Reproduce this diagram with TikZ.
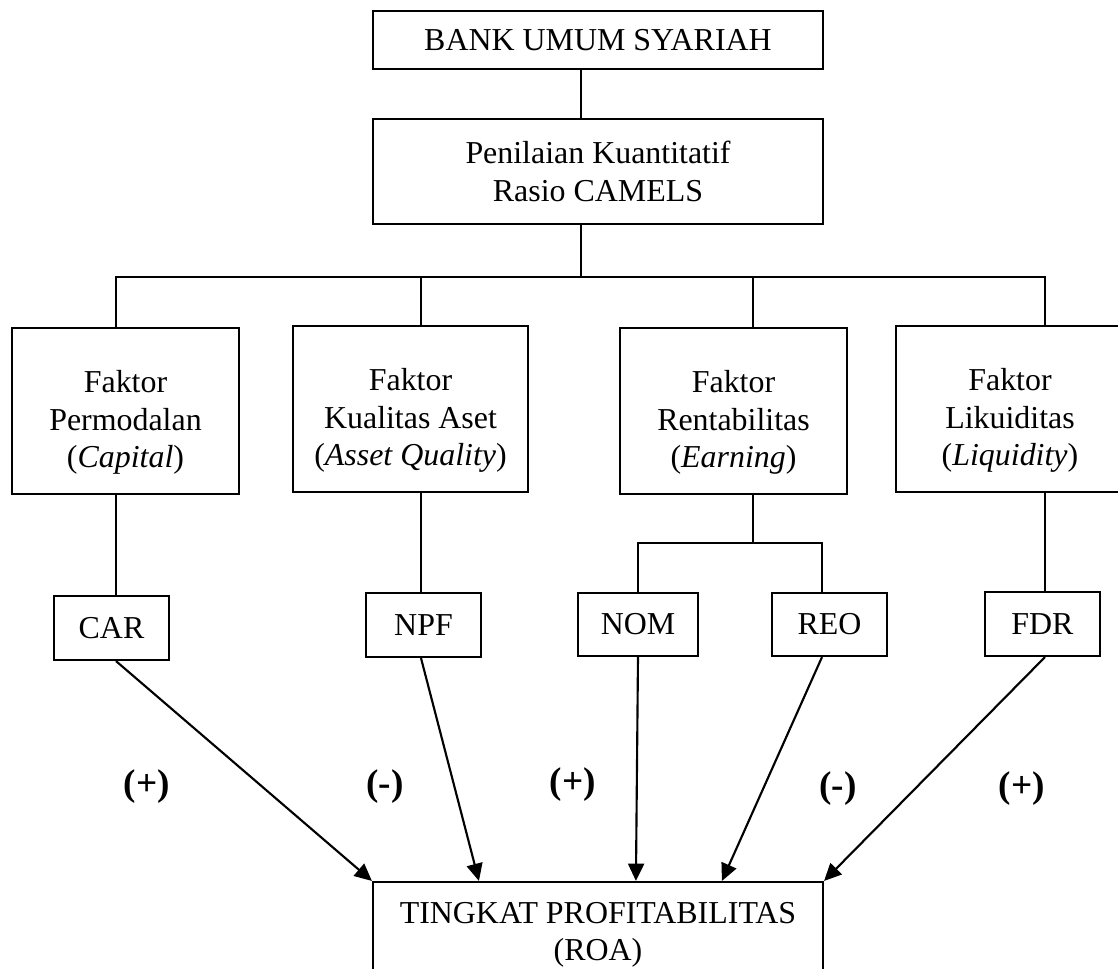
\documentclass[tikz,border=0pt]{standalone}
\usepackage{fontspec}
\setmainfont{Liberation Serif}
\usetikzlibrary{arrows.meta}
\newcommand{\unitpx}{0.376pt}
\newcommand{\turun}{\rule{0pt}{17pt}}

\begin{document}
\begin{tikzpicture}[x=\unitpx, y=-\unitpx, line width=0.8pt,
          every node/.style={align=center, font=\fontsize{12}{14}\selectfont},
          kotak/.style 2 args={draw, rectangle, inner sep=0pt, minimum width=#1*\unitpx, minimum height=#2*\unitpx},
          panah/.style={-{Triangle[length=6.5pt, width=6pt]}},
          tanda/.style={font=\fontsize{14}{16}\selectfont\bfseries}]
          \useasboundingbox (0,0) rectangle (1118,968);
          \clip (0,0) rectangle (1118,968);
          % kotak atas
          \node[kotak={450}{58}] (bank) at (598,40) {BANK UMUM SYARIAH};
          \node[kotak={450}{105}] (camels) at (598,171.5) {Penilaian Kuantitatif\\Rasio CAMELS};
          % faktor
          \node[kotak={227}{166}] (modal) at (125.5,411) {\turun Faktor\\Permodalan\\(\textit{Capital})};
          \node[kotak={235}{166}] (aset) at (410.5,409) {\turun Faktor\\Kualitas Aset\\(\textit{Asset Quality})};
          \node[kotak={227}{166}] (rentab) at (733.5,411) {\turun Faktor\\Rentabilitas\\(\textit{Earning})};
          \node[kotak={228}{166}] (likuid) at (1010,409) {\turun Faktor\\Likuiditas\\(\textit{Liquidity})};
          % rasio
          \node[kotak={115}{64}] (car) at (111.5,628) {CAR};
          \node[kotak={115}{64}] (npf) at (423.5,625) {NPF};
          \node[kotak={120}{63}] (nom) at (638,624.5) {NOM};
          \node[kotak={115}{63}] (reo) at (829.5,624.5) {REO};
          \node[kotak={115}{64}] (fdr) at (1042.5,624) {FDR};
          % kotak bawah
          \node[kotak={450}{105}] (roa) at (598,934.5) {TINGKAT PROFITABILITAS\\(ROA)};
          % titik cabang
          \coordinate (pusat) at (581,277);
          \coordinate (c1) at (116,277);
          \coordinate (c2) at (421,277);
          \coordinate (c3) at (753,277);
          \coordinate (c4) at (1045,277);
          \coordinate (cabang) at (753,543);
          \coordinate (cabreo) at (822,543);
          \draw (pusat |- bank.south) -- (pusat |- camels.north);
          \draw (pusat |- camels.south) -- (pusat);
          \draw (c1 |- modal.north) -- (c1) -- (c4) -- (c4 |- likuid.north);
          \draw (c2) -- (c2 |- aset.north);
          \draw (c3) -- (c3 |- rentab.north);
          \draw (c1 |- modal.south) -- (c1 |- car.north);
          \draw (c2 |- aset.south) -- (c2 |- npf.north);
          \draw (c4 |- likuid.south) -- (c4 |- fdr.north);
          \draw (c3 |- rentab.south) -- (cabang);
          \draw (nom.north) |- (cabreo) -- (cabreo |- reo.north);
          % panah ke ROA
          \draw[panah] (c1 |- car.south) -- (roa.north west);
          \draw[panah] (c2 |- npf.south) -- ([xshift=107*\unitpx]roa.north west);
          \draw[panah] (nom.south) -- ([xshift=264*\unitpx]roa.north west);
          \draw[panah] (cabreo |- reo.south) -- ([xshift=350*\unitpx]roa.north west);
          \draw[panah] (c4 |- fdr.south) -- (roa.north east);
          % tanda pengaruh
          \node[tanda] (t1) at (147,787) {(+)};
          \node[tanda] (t2) at (385,787) {(-)};
          \node[tanda] (t3) at (573,785) {(+)};
          \node[tanda] (t4) at (838,789) {(-)};
          \node[tanda] (t5) at (1022,789) {(+)};
        \end{tikzpicture}
\end{document}
